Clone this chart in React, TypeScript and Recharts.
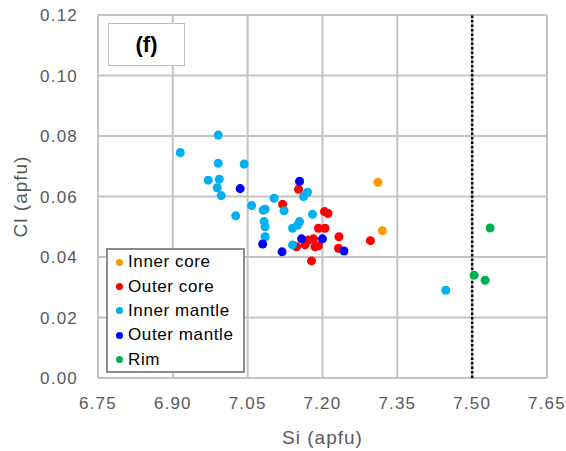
import React from "react";
import {
  ScatterChart,
  Scatter,
  XAxis,
  YAxis,
  ZAxis,
  CartesianGrid,
  ReferenceLine,
  Legend,
} from "recharts";

// Si vs Cl (apfu)
const innerCore = [
  { x: 7.311, y: 0.0647 },
  { x: 7.32, y: 0.0487 },
];

const outerCore = [
  { x: 7.152, y: 0.0624 },
  { x: 7.12, y: 0.0574 },
  { x: 7.204, y: 0.055 },
  { x: 7.211, y: 0.0544 },
  { x: 7.192, y: 0.0495 },
  { x: 7.205, y: 0.0495 },
  { x: 7.233, y: 0.0467 },
  { x: 7.172, y: 0.0456 },
  { x: 7.182, y: 0.046 },
  { x: 7.165, y: 0.044 },
  { x: 7.185, y: 0.0434 },
  { x: 7.192, y: 0.0437 },
  { x: 7.148, y: 0.0434 },
  { x: 7.178, y: 0.0387 },
  { x: 7.232, y: 0.0429 },
  { x: 7.296, y: 0.0454 },
];

const innerMantle = [
  { x: 6.991, y: 0.0803 },
  { x: 6.915, y: 0.0745 },
  { x: 6.991, y: 0.071 },
  { x: 7.043, y: 0.0707 },
  { x: 6.971, y: 0.0654 },
  { x: 6.993, y: 0.0657 },
  { x: 6.989, y: 0.0629 },
  { x: 6.997, y: 0.0603 },
  { x: 7.058, y: 0.057 },
  { x: 7.026, y: 0.0536 },
  { x: 7.081, y: 0.0555 },
  { x: 7.085, y: 0.0558 },
  { x: 7.103, y: 0.0594 },
  { x: 7.123, y: 0.0553 },
  { x: 7.17, y: 0.0614 },
  { x: 7.162, y: 0.06 },
  { x: 7.083, y: 0.0517 },
  { x: 7.085, y: 0.05 },
  { x: 7.085, y: 0.0467 },
  { x: 7.18, y: 0.0541 },
  { x: 7.154, y: 0.0517 },
  { x: 7.14, y: 0.0495 },
  { x: 7.15, y: 0.0505 },
  { x: 7.14, y: 0.044 },
  { x: 7.447, y: 0.029 },
];

const outerMantle = [
  { x: 7.154, y: 0.065 },
  { x: 7.035, y: 0.0626 },
  { x: 7.08, y: 0.0443 },
  { x: 7.119, y: 0.0417 },
  { x: 7.158, y: 0.046 },
  { x: 7.2, y: 0.046 },
  { x: 7.243, y: 0.042 },
];

const rim = [
  { x: 7.536, y: 0.0496 },
  { x: 7.504, y: 0.034 },
  { x: 7.526, y: 0.0323 },
];

const xTicks = [6.75, 6.9, 7.05, 7.2, 7.35, 7.5, 7.65];
const yTicks = [0, 0.02, 0.04, 0.06, 0.08, 0.1, 0.12];

const series = [
  { name: "Inner core", data: innerCore, color: "#FF9900" },
  { name: "Outer core", data: outerCore, color: "#FF0000" },
  { name: "Inner mantle", data: innerMantle, color: "#00B0F0" },
  { name: "Outer mantle", data: outerMantle, color: "#0000FF" },
  { name: "Rim", data: rim, color: "#00B050" },
];

const font = "'Liberation Sans', Arial, sans-serif";
const tickStyle = { fontSize: 17, fill: "#595959", fontFamily: font, letterSpacing: 1.2 };

const renderLegend = () => (
  <div
    style={{
      background: "#fff",
      border: "2px solid #8c8c8c",
      width: 135,
      height: 121,
      boxSizing: "content-box",
      fontFamily: font,
      fontSize: 17,
      letterSpacing: 0.6,
      color: "#000",
    }}
  >
    {series.map((s) => (
      <div key={s.name} style={{ display: "flex", alignItems: "center", height: 24.4 }}>
        <span
          style={{
            display: "inline-block",
            width: 7,
            height: 7,
            borderRadius: "50%",
            background: s.color,
            marginLeft: 8,
            marginRight: 5,
          }}
        />
        <span>{s.name}</span>
      </div>
    ))}
  </div>
);

export default function App() {
  return (
    <div style={{ position: "absolute", left: 0, top: 0, width: 566, height: 451, background: "#fff" }}>
      <ScatterChart width={566} height={451} margin={{ top: 15, right: 19, bottom: 0, left: 0 }}>
        <CartesianGrid stroke="#c4c4c4" strokeWidth={2} />
        <XAxis
          type="number"
          dataKey="x"
          domain={[6.75, 7.65]}
          ticks={xTicks}
          tickFormatter={(v: number) => v.toFixed(2)}
          tick={tickStyle}
          tickLine={false}
          axisLine={false}
          tickSize={0}
          tickMargin={19}
          height={73}
          label={{
            value: "Si (apfu)",
            position: "insideBottom",
            offset: 7,
            style: { fontSize: 19, fill: "#595959", fontFamily: font, letterSpacing: 1 },
          }}
        />
        <YAxis
          type="number"
          dataKey="y"
          domain={[0, 0.12]}
          ticks={yTicks}
          tickFormatter={(v: number) => v.toFixed(2)}
          tick={tickStyle}
          tickLine={false}
          axisLine={false}
          tickSize={0}
          tickMargin={20}
          width={98}
          label={{
            value: "Cl (apfu)",
            angle: -90,
            position: "insideLeft",
            offset: 20,
            style: { fontSize: 19, fill: "#595959", fontFamily: font, letterSpacing: 1, textAnchor: "middle" },
          }}
        />
        <ZAxis range={[110, 110]} />
        {series.map((s) => (
          <Scatter
            key={s.name}
            name={s.name}
            data={s.data}
            fill={s.color}
            isAnimationActive={false}
          />
        ))}
        <ReferenceLine x={7.5} stroke="#000" strokeWidth={2.5} strokeDasharray="2.5 2" />
        <Legend
          layout="vertical"
          align="center"
          verticalAlign="middle"
          content={renderLegend}
          wrapperStyle={{ left: 106, top: 248, width: 139, height: 125 }}
        />
      </ScatterChart>
      <div
        style={{
          position: "absolute",
          left: 108,
          top: 23,
          width: 75,
          height: 41,
          background: "#fff",
          border: "1px solid #bfbfbf",
          display: "flex",
          alignItems: "center",
          justifyContent: "center",
          fontFamily: font,
          fontWeight: "bold",
          fontSize: 22,
          color: "#000",
        }}
      >
        (f)
      </div>
    </div>
  );
}
